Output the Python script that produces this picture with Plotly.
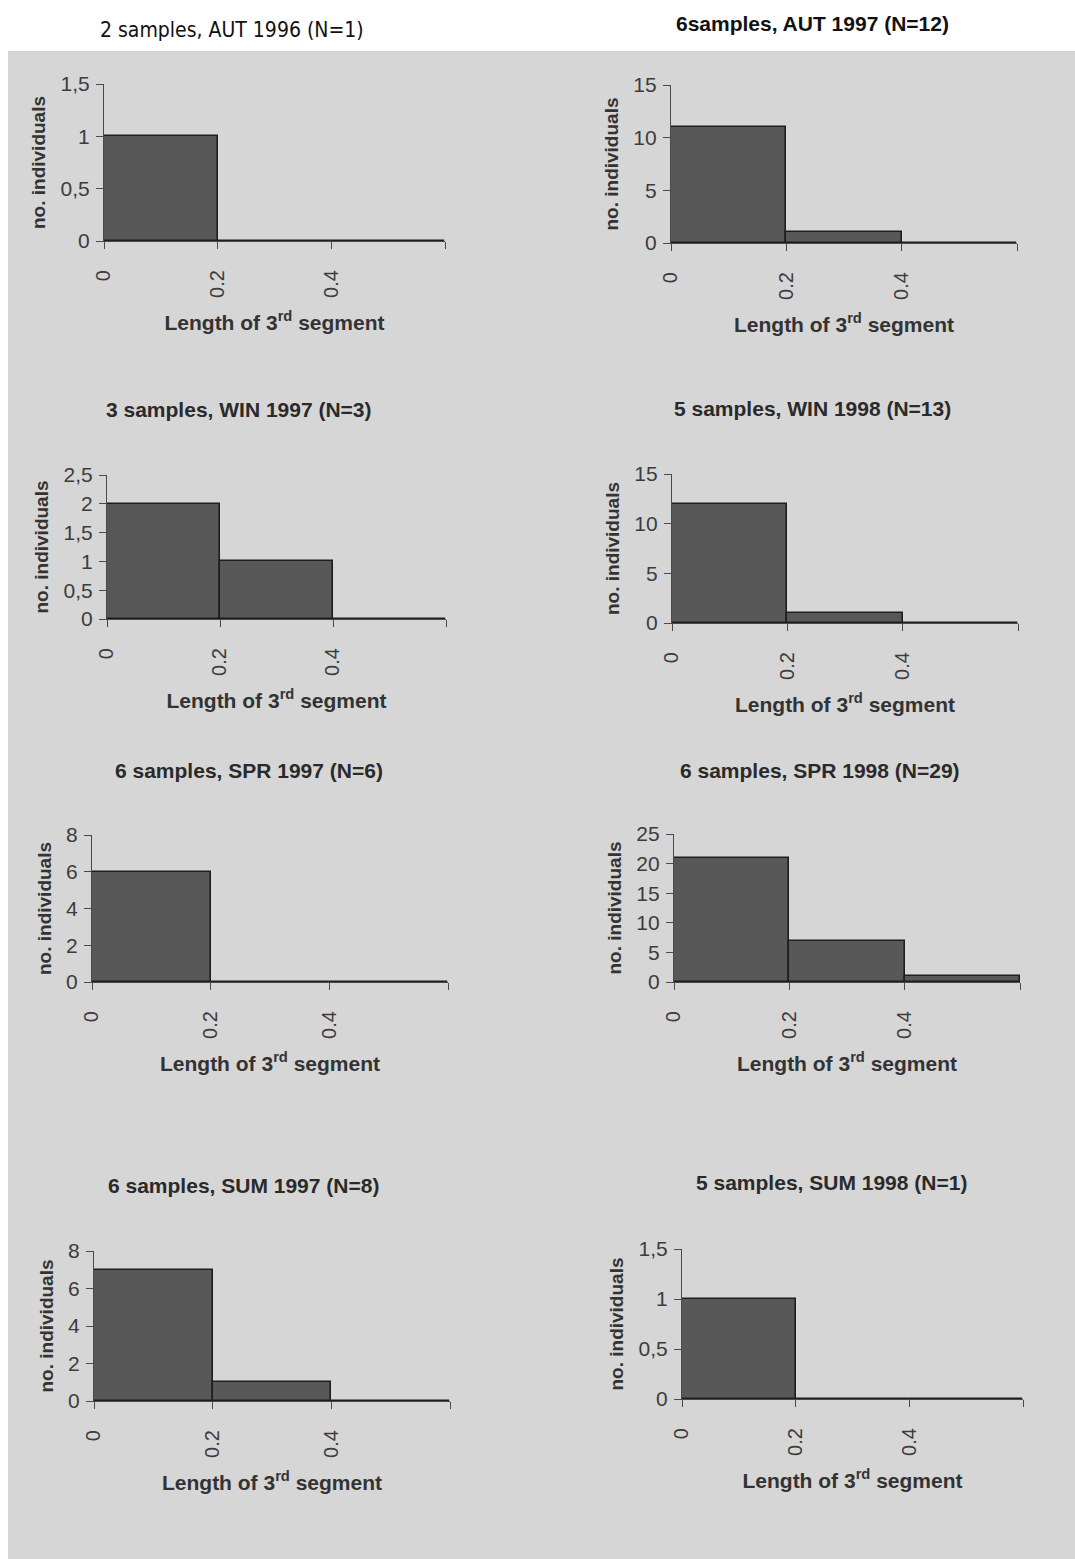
import plotly.graph_objects as go

W, H = 1075, 1559

# ---------------- data ----------------
bin_edges = [0.0, 0.2, 0.4, 0.6]
x_tick_vals = [0.0, 0.2, 0.4]
x_tick_labels = ["0", "0.2", "0.4"]

titles = [
    "2 samples, AUT 1996 (N=1)",
    "6samples, AUT 1997 (N=12)",
    "3 samples, WIN 1997 (N=3)",
    "5 samples, WIN 1998 (N=13)",
    "6 samples, SPR 1997 (N=6)",
    "6 samples, SPR 1998 (N=29)",
    "6 samples, SUM 1997 (N=8)",
    "5 samples, SUM 1998 (N=1)",
]

counts_aut1996 = [1, 0, 0]
counts_aut1997 = [11, 1, 0]
counts_win1997 = [2, 1, 0]
counts_win1998 = [12, 1, 0]
counts_spr1997 = [6, 0, 0]
counts_spr1998 = [21, 7, 1]
counts_sum1997 = [7, 1, 0]
counts_sum1998 = [1, 0, 0]

y_ticks_small = [0, 0.5, 1, 1.5]
y_labels_small = ["0", "0,5", "1", "1,5"]
y_ticks_15 = [0, 5, 10, 15]
y_labels_15 = ["0", "5", "10", "15"]
y_ticks_25half = [0, 0.5, 1, 1.5, 2, 2.5]
y_labels_25half = ["0", "0,5", "1", "1,5", "2", "2,5"]
y_ticks_8 = [0, 2, 4, 6, 8]
y_labels_8 = ["0", "2", "4", "6", "8"]
y_ticks_25 = [0, 5, 10, 15, 20, 25]
y_labels_25 = ["0", "5", "10", "15", "20", "25"]

x_title = "Length of 3<sup>rd</sup> segment"
y_title = "no. individuals"

panels_counts = [counts_aut1996, counts_aut1997, counts_win1997, counts_win1998,
                 counts_spr1997, counts_spr1998, counts_sum1997, counts_sum1998]
panels_yticks = [(y_ticks_small, y_labels_small), (y_ticks_15, y_labels_15),
                 (y_ticks_25half, y_labels_25half), (y_ticks_15, y_labels_15),
                 (y_ticks_8, y_labels_8), (y_ticks_25, y_labels_25),
                 (y_ticks_8, y_labels_8), (y_ticks_small, y_labels_small)]

# ---------------- layout geometry (pixels) ----------------
# (axis x, axis end x, top y, zero y)
boxes = [(104, 445, 84, 241), (671, 1017, 85, 243),
         (107, 446, 475, 619), (672, 1018, 474, 623),
         (92, 448, 835, 982), (674, 1020, 834, 982),
         (94, 450, 1251, 1401), (682, 1023, 1249, 1399)]
title_pos = [(232, 30), (812, 23), (239, 410), (812, 408),
             (249, 770), (820, 770), (243, 1185), (831, 1182)]


def fx(v):
    return v / W


def fy(v):
    return 1 - v / H


BOLD = "Liberation Sans, Arial, sans-serif"
REG = "Liberation Sans, Arial, sans-serif"
BG = "#d6d6d6"
AX = "#4a4a4a"

fig = go.Figure()
centers = [(bin_edges[i] + bin_edges[i + 1]) / 2 for i in range(len(bin_edges) - 1)]
widths = [bin_edges[i + 1] - bin_edges[i] for i in range(len(bin_edges) - 1)]

annotations = []
for i, counts in enumerate(panels_counts):
    n = i + 1
    xa = "x" if n == 1 else f"x{n}"
    ya = "y" if n == 1 else f"y{n}"
    fig.add_trace(go.Bar(
        x=centers, y=counts, width=widths, xaxis=xa, yaxis=ya,
        marker=dict(color="#585858", line=dict(color="#1e1e1e", width=1.6)),
        showlegend=False, hoverinfo="x+y",
    ))
    x0, x1, yt, yz = boxes[i]
    tv, tt = panels_yticks[i]
    xkey = "xaxis" if n == 1 else f"xaxis{n}"
    ykey = "yaxis" if n == 1 else f"yaxis{n}"
    fig.update_layout(**{
        xkey: dict(domain=[fx(x0), fx(x1)], anchor=ya, range=[bin_edges[0], bin_edges[-1]],
                   tickmode="array", tickvals=x_tick_vals, ticktext=x_tick_labels, tickangle=-90,
                   ticks="outside", ticklen=7, tickcolor=AX, tickwidth=1.2,
                   minor=dict(tickmode="array", tickvals=[bin_edges[-1]], ticks="outside",
                              ticklen=7, tickcolor=AX, tickwidth=1.2, showgrid=False),
                   showline=True, linecolor=AX, linewidth=1.2, showgrid=False,
                   zeroline=False, ticklabelstandoff=13, automargin=False,
                   tickfont=dict(family=REG, size=20, color="#3c3c3c"),
                   title=dict(text=x_title, standoff=18,
                              font=dict(family=BOLD, size=21, color="#333333", weight="bold"))),
        ykey: dict(domain=[fy(yz), fy(yt)], anchor=xa, range=[0, tv[-1]],
                   tickvals=tv, ticktext=tt, ticks="outside", ticklen=7,
                   tickcolor=AX, tickwidth=1.2, showline=True, linecolor=AX,
                   linewidth=1.2, showgrid=False, zeroline=False,
                   ticklabelstandoff=2, automargin=False,
                   tickfont=dict(family=REG, size=21, color="#3c3c3c"),
                   title=dict(text=y_title, standoff=9,
                              font=dict(family=BOLD, size=19, color="#333333", weight="bold"))),
    })
    tx, ty = title_pos[i]
    if i == 0:
        tfont = dict(family="DejaVu Sans Condensed, DejaVu Sans, sans-serif", size=21, color="#111111")
    else:
        tfont = dict(family=BOLD, size=21, color="#111111" if i == 1 else "#2a2a2a", weight="bold")
    annotations.append(dict(text=titles[i], x=fx(tx), y=fy(ty), xref="paper", yref="paper",
                            showarrow=False, xanchor="center", yanchor="middle", font=tfont))

shapes = [dict(type="rect", xref="paper", yref="paper", x0=fx(8), x1=1, y0=0, y1=fy(51),
               fillcolor=BG, line=dict(width=0), layer="below")]

fig.update_layout(
    width=W, height=H, margin=dict(l=0, r=0, t=0, b=0, autoexpand=False),
    paper_bgcolor="white", plot_bgcolor="rgba(0,0,0,0)",
    bargap=0, annotations=annotations, shapes=shapes,
)

fig.write_html("out.html", config={"displayModeBar": False},
               post_script="document.body.style.margin='0';document.body.style.padding='0';")
